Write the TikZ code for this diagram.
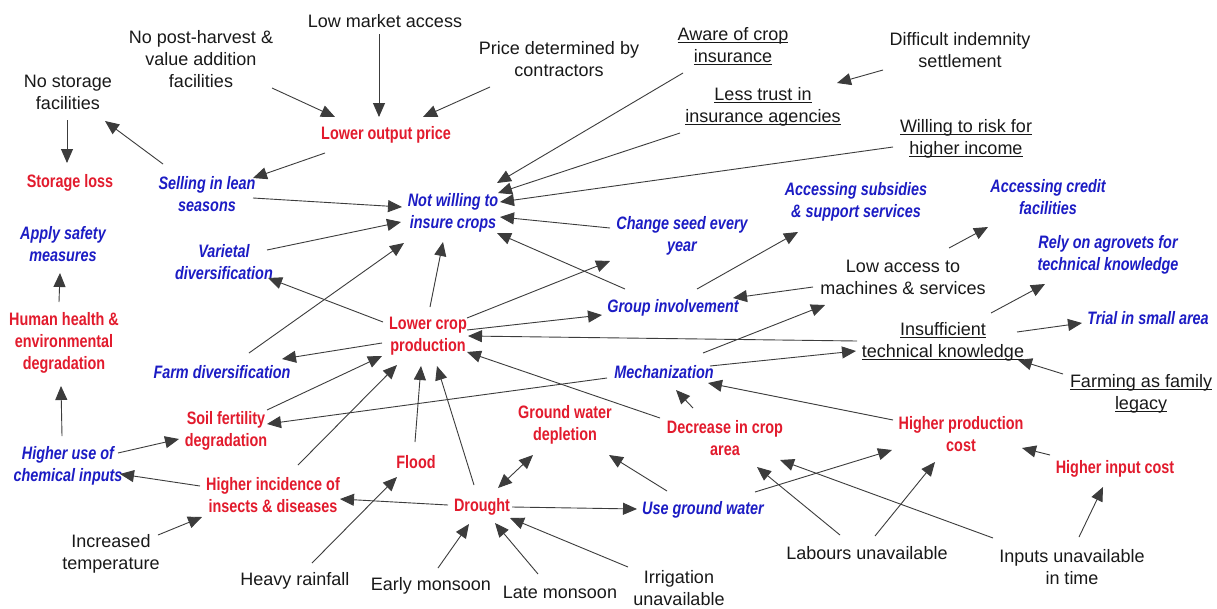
\documentclass[tikz,border=0pt]{standalone}
\usepackage{fontspec}
\setmainfont{Liberation Sans}
\newfontfamily\narrowsans[FakeStretch=0.8]{Liberation Sans}
\usetikzlibrary{arrows.meta,calc}
\definecolor{causered}{RGB}{226,27,45}
\definecolor{actionblue}{RGB}{28,28,196}
\definecolor{linkgray}{RGB}{60,60,60}
% underline set at a fixed depth, running through descenders
\newsavebox\ulbox
\newcommand{\undl}[1]{\sbox\ulbox{#1}\rlap{\rule[-2.6pt]{\wd\ulbox}{1.2pt}}\usebox\ulbox}

\begin{document}
\begin{tikzpicture}[x=1pt,y=-1pt,
  lbl/.style={align=center, inner sep=0pt},
  plain/.style={lbl, font=\fontsize{18}{22}\selectfont, text=black!90},
  effect/.style={lbl, font=\narrowsans\bfseries\fontsize{18}{22}\selectfont, text=causered},
  response/.style={lbl, font=\narrowsans\bfseries\itshape\fontsize{18}{22}\selectfont, text=actionblue},
  link/.style={draw=linkgray, line width=0.9pt, -{Triangle[length=14pt,width=12pt]}},
  twoway/.style={draw=linkgray, line width=0.9pt, {Triangle[length=14pt,width=12pt]}-{Triangle[length=14pt,width=12pt]}},
]
\fill[white] (0,0) rectangle (1217,608);
\useasboundingbox (0,0) rectangle (1217,608);

% ---- factors and outcomes ----
\node[plain]    (nsf) at (68,92)   {No storage\\facilities};
\node[effect]   (sl)  at (70,183)  {Storage loss};
\node[plain]    (nph) at (201,59)  {No post-harvest \&\\value addition\\facilities};
\node[plain]    (lma) at (385,21)  {Low market access};
\node[plain]    (pdc) at (559,59)  {Price determined by\\contractors};
\node[effect]   (lop) at (386,135) {Lower output price};
\node[response] (slean) at (207,194) {Selling in lean\\seasons};
\node[plain]    (aci) at (733,46)  {\undl{Aware of crop}\\\undl{insurance}};
\node[plain]    (lti) at (763,107) {\undl{Less trust in}\\\undl{insurance agencies}};
\node[plain]    (dis) at (960,50)  {Difficult indemnity\\settlement};
\node[plain]    (wrh) at (966,139) {\undl{Willing to risk for}\\\undl{higher income}};
\node[response] (nwi) at (453,213) {Not willing to\\insure crops};
\node[response] (csy) at (682,236) {Change seed every\\year};
\node[response] (asub) at (856,202) {Accessing subsidies\\\& support services};
\node[response] (acf) at (1048,197) {Accessing credit\\facilities};
\node[response] (rat) at (1108,255) {Rely on agrovets for\\technical knowledge};
\node[response] (asm) at (63,244)  {Apply safety\\measures};
\node[response] (vd)  at (224,262) {Varietal\\diversification};
\node[plain]    (lam) at (903,277) {Low access to\\machines \& services};
\node[response] (gi)  at (673,308) {Group involvement};
\node[effect]   (hh)  at (64,343)  {Human health \&\\environmental\\degradation};
\node[effect]   (lcp) at (428,336) {Lower crop\\production};
\node[plain]    (itk) at (943,342) {\undl{Insufficient}\\\undl{technical knowledge}};
\node[response] (tsa) at (1148,318) {Trial in small area};
\node[response] (fd)  at (222,372) {Farm diversification};
\node[response] (mech) at (664,372) {Mechanization};
\node[plain]    (ffl) at (1141,394) {\undl{Farming as family}\\\undl{legacy}};
\node[effect]   (sfd) at (226,431) {Soil fertility\\degradation};
\node[effect]   (gwd) at (565,425) {Ground water\\depletion};
\node[effect]   (dca) at (725,438) {Decrease in crop\\area};
\node[effect]   (hpc) at (961,434) {Higher production\\cost};
\node[response] (huc) at (68,466)  {Higher use of\\chemical inputs};
\node[effect]   (hid) at (273,495) {Higher incidence of\\insects \& diseases};
\node[effect]   (flood) at (416,462) {Flood};
\node[effect]   (hic) at (1115,469) {Higher input cost};
\node[effect]   (drought) at (482,507) {Drought};
\node[response] (ugw) at (703,510) {Use ground water};
\node[plain]    (it)  at (111,554) {Increased\\temperature};
\node[plain]    (hr)  at (295,581) {Heavy rainfall};
\node[plain]    (em)  at (431,586) {Early monsoon};
\node[plain]    (lm)  at (560,592) {Late monsoon};
\node[plain]    (iu)  at (679,588) {Irrigation\\unavailable};
\node[plain]    (lu)  at (867,553) {Labours unavailable};
\node[plain]    (iut) at (1072,567) {Inputs unavailable\\in time};

% ---- causal links ----
\draw[link] ($(nsf)+(-1,28)$) -- ($(sl)+(-3,-20)$);
\draw[link] ($(slean)+(-44,-30)$) -- ($(nsf)+(37,29)$);
\draw[link] ($(nph)+(71,29)$) -- ($(lop)+(-51,-18)$);
\draw[link] ($(lma)+(-6,13)$) -- ($(lop)+(-7,-18)$);
\draw[link] ($(pdc)+(-69,28)$) -- ($(lop)+(37,-18)$);
\draw[link] ($(lop)+(-61,18)$) -- ($(slean)+(46,-16)$);
\draw[link] ($(slean)+(46,4)$) -- ($(nwi)+(-51,-6)$);
\draw[link] ($(vd)+(43,-12)$) -- ($(nwi)+(-52,9)$);
\draw[link] ($(fd)+(27,-19)$) -- ($(nwi)+(-49,30)$);
\draw[link] ($(lcp)+(-45,-14)$) -- ($(vd)+(44,16)$);
\draw[link] ($(lcp)+(-46,7)$) -- ($(fd)+(60,-13)$);
\draw[link] ($(aci)+(-50,27)$) -- ($(nwi)+(44,-30)$);
\draw[link] ($(lti)+(-83,26)$) -- ($(nwi)+(45,-20)$);
\draw[link] ($(wrh)+(-73,8)$) -- ($(nwi)+(47,-11)$);
\draw[link] ($(dis)+(-77,20)$) -- ($(lti)+(74,-24)$);
\draw[link] ($(csy)+(-72,-8)$) -- ($(nwi)+(47,4)$);
\draw[link] ($(gi)+(-48,-19)$) -- ($(nwi)+(44,20)$);
\draw[link] ($(lcp)+(2,-29)$) -- ($(nwi)+(-10,29)$);
\draw[link] ($(lcp)+(39,-18)$) -- ($(csy)+(-72,25)$);
\draw[link] ($(lcp)+(39,-6)$) -- ($(gi)+(-71,7)$);
\draw[link] ($(gi)+(24,-19)$) -- ($(asub)+(-58,30)$);
\draw[link] ($(lam)+(-90,10)$) -- ($(gi)+(60,-10)$);
\draw[link] ($(lam)+(46,-29)$) -- ($(acf)+(-60,30)$);
\draw[link] ($(itk)+(-86,-1)$) -- ($(lcp)+(40,0)$);
\draw[link] ($(itk)+(48,-29)$) -- ($(rat)+(-63,29)$);
\draw[link] ($(itk)+(74,-10)$) -- ($(tsa)+(-66,5)$);
\draw[link] ($(ffl)+(-78,-20)$) -- ($(itk)+(75,18)$);
\draw[link] ($(mech)+(39,-19)$) -- ($(lam)+(-78,28)$);
\draw[link] ($(mech)+(46,-6)$) -- ($(itk)+(-87,9)$);
\draw[link] ($(mech)+(-57,6)$) -- ($(sfd)+(41,-7)$);
\draw[link] ($(dca)+(-65,-20)$) -- ($(lcp)+(39,16)$);
\draw[link] ($(dca)+(-32,-30)$) -- ($(mech)+(12,18)$);
\draw[link] ($(hpc)+(-68,-14)$) -- ($(mech)+(44,11)$);
\draw[link] ($(hic)+(-65,-14)$) -- ($(hpc)+(61,14)$);
\draw[link] ($(lu)+(8,-17)$) -- ($(hpc)+(-26,28)$);
\draw[link] ($(lu)+(-27,-18)$) -- ($(dca)+(32,29)$);
\draw[link] ($(iut)+(-79,-29)$) -- ($(dca)+(55,22)$);
\draw[link] ($(iut)+(7,-30)$) -- ($(hic)+(-12,18)$);
\draw[link] ($(ugw)+(52,-18)$) -- ($(hpc)+(-69,16)$);
\draw[link] ($(ugw)+(-36,-19)$) -- ($(gwd)+(44,30)$);
\draw[twoway] ($(drought)+(16,-19)$) -- ($(gwd)+(-32,30)$);
\draw[link] ($(drought)+(30,0)$) -- ($(ugw)+(-66,-1)$);
\draw[link] ($(drought)+(-34,-2)$) -- ($(hid)+(67,4)$);
\draw[link] ($(drought)+(-8,-22)$) -- ($(lcp)+(9,30)$);
\draw[link] ($(flood)+(-1,-20)$) -- ($(lcp)+(-7,30)$);
\draw[link] ($(hr)+(17,-18)$) -- ($(flood)+(-19,15)$);
\draw[link] ($(sfd)+(41,-21)$) -- ($(lcp)+(-46,20)$);
\draw[link] ($(hid)+(25,-30)$) -- ($(lcp)+(-31,29)$);
\draw[link] ($(hid)+(-73,-9)$) -- ($(huc)+(52,8)$);
\draw[link] ($(huc)+(50,-13)$) -- ($(sfd)+(-47,8)$);
\draw[link] ($(huc)+(-6,-30)$) -- ($(hh)+(-3,43)$);
\draw[link] ($(hh)+(-5,-41)$) -- ($(asm)+(-3,29)$);
\draw[link] ($(it)+(47,-19)$) -- ($(hid)+(-71,22)$);
\draw[link] ($(em)+(7,-18)$) -- ($(drought)+(-13,17)$);
\draw[link] ($(lm)+(-22,-18)$) -- ($(drought)+(13,16)$);
\draw[link] ($(iu)+(-51,-21)$) -- ($(drought)+(28,11)$);
\end{tikzpicture}
\end{document}
